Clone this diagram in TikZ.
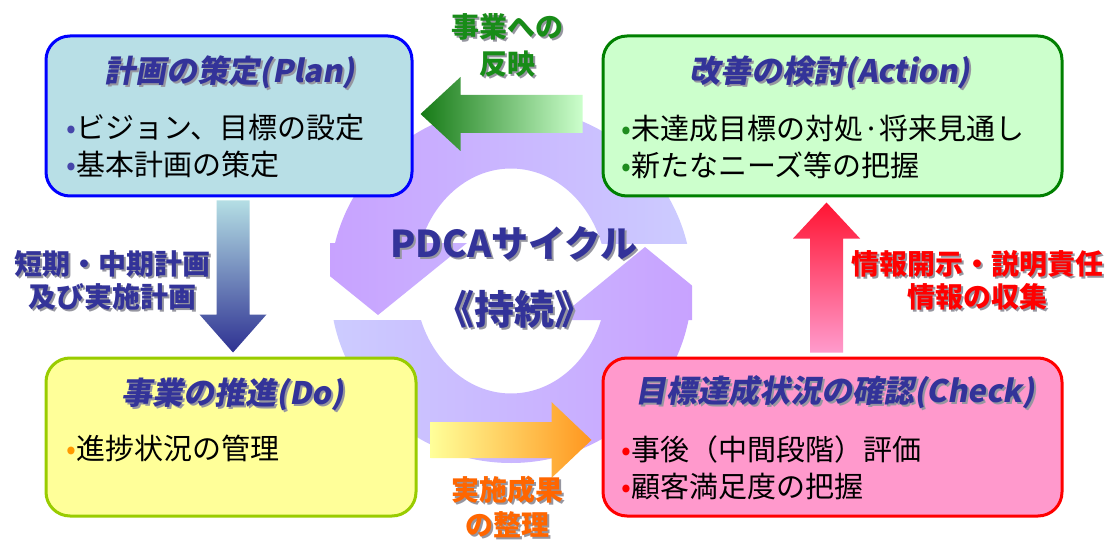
\documentclass[tikz,border=0pt]{standalone}
\usepackage{fontspec}
\setmainfont{Noto Sans CJK JP}
\newfontfamily\ttlfont[FakeSlant=0.18]{Noto Sans CJK JP}
\usetikzlibrary{calc}
\definecolor{navy}{RGB}{51,51,153}
\definecolor{ringdark}{RGB}{200,162,255}
\definecolor{ringlight}{RGB}{204,204,255}
\definecolor{planfill}{RGB}{184,223,230}
\definecolor{planline}{RGB}{0,0,255}
\definecolor{actfill}{RGB}{204,255,204}
\definecolor{actline}{RGB}{0,128,0}
\definecolor{dofill}{RGB}{255,255,153}
\definecolor{doline}{RGB}{153,204,0}
\definecolor{chkfill}{RGB}{255,153,204}
\definecolor{chkline}{RGB}{255,0,0}
\definecolor{gdark}{RGB}{22,122,22}
\definecolor{glight}{RGB}{204,255,204}
\definecolor{btop}{RGB}{180,222,228}
\definecolor{bbot}{RGB}{46,49,146}
\definecolor{oleft}{RGB}{255,255,153}
\definecolor{oright}{RGB}{255,150,30}
\definecolor{rtop}{RGB}{255,20,50}
\definecolor{rbot}{RGB}{255,155,205}
\definecolor{lblgreen}{RGB}{24,140,24}
\definecolor{lblorange}{RGB}{255,102,0}
\definecolor{lblred}{RGB}{255,0,0}
\definecolor{bulblue}{RGB}{70,70,170}
\definecolor{bulgreen}{RGB}{30,140,30}
\definecolor{bulorange}{RGB}{255,153,0}
\definecolor{shadowcol}{RGB}{150,150,160}
\newcommand\shd[1]{\leavevmode\rlap{\kern2pt\raisebox{-2pt}{\textcolor{shadowcol}{#1}}}#1}
\begin{document}
\begin{tikzpicture}[x=1pt,y=-1pt,
  box/.style={draw, line width=3pt, rounded corners=24pt, inner sep=0pt},
  ttlnode/.style={text=navy, font=\ttlfont\bfseries\fontsize{31}{36}\selectfont, inner sep=0pt},
  bodynode/.style={anchor=west, align=left, font=\fontsize{29}{37}\selectfont, inner sep=0pt},
  lbl/.style={align=center, font=\bfseries\fontsize{28}{35}\selectfont, inner sep=0pt}]
\useasboundingbox (0,0) rectangle (1108,540);
\fill[white] (0,0) rectangle (1108,540);

% ---- ring (background cycle)
\begin{scope}[even odd rule]
  \clip (280,0) rectangle (760,243);
  \clip (511,285) ellipse [x radius=181, y radius=178] (511,281) ellipse [x radius=96, y radius=112.5];
  \shade[left color=ringdark, right color=ringlight] (330,100) rectangle (692,470);
\end{scope}
\begin{scope}
  \clip (289,243) -- (467,243) -- (378,315) -- cycle;
  \shade[left color=ringdark, right color=ringlight] (330,100) rectangle (692,470);
\end{scope}
\begin{scope}[even odd rule]
  \clip (280,320) rectangle (760,540);
  \clip (511,285) ellipse [x radius=181, y radius=178] (511,281) ellipse [x radius=96, y radius=112.5];
  \shade[left color=ringlight, right color=ringdark] (330,100) rectangle (692,470);
\end{scope}
\begin{scope}
  \clip (556,320) -- (734,320) -- (645,247) -- cycle;
  \shade[left color=ringlight, right color=ringdark] (330,100) rectangle (692,470);
\end{scope}

% ---- boxes
\node[box, draw=planline, fill=planfill, minimum width=366pt, minimum height=160pt] (plan) at (229,116) {};
\node[box, draw=actline, fill=actfill, minimum width=459pt, minimum height=160pt] (action) at (832.5,116) {};
\node[box, draw=doline, fill=dofill, minimum width=370pt, minimum height=158pt] (do) at (231,437) {};
\node[box, draw=chkline, fill=chkfill, minimum width=459pt, minimum height=158pt] (check) at (832.5,437) {};

% ---- titles
\node[ttlnode] (plantitle) at (230,73) {\shd{計画の策定(Plan)}};
\node[ttlnode] (acttitle) at (830,73) {\shd{改善の検討(Action)}};
\node[ttlnode] (dotitle) at (233,395) {\shd{事業の推進(Do)}};
\node[ttlnode] (chktitle) at (835,393) {\shd{目標達成状況の確認(Check)}};

% ---- bullet texts
\node[bodynode] (planbody) at (66,146.5) {{\color{bulblue}•}ビジョン、目標の設定\\{\color{bulblue}•}基本計画の策定};
\node[bodynode] (actbody) at (621,147.5) {{\color{bulgreen}•}未達成目標の対処·将来見通し\\{\color{bulgreen}•}新たなニーズ等の把握};
\node[bodynode] (dobody) at (66,448) {{\color{bulorange}•}進捗状況の管理};
\node[bodynode] (chkbody) at (621,467.5) {{\color{lblred}•}事後（中間段階）評価\\{\color{lblred}•}顧客満足度の把握};

% ---- block arrows
\coordinate (gS) at ($(action.west)+(-19,-2)$);
\coordinate (gT) at ($(plan.east |- gS)+(7,0)$);
\shade[left color=gdark, right color=glight]
  ($(gS)+(0,-19)$) -- ($(gT)+(40,-19)$) -- ($(gT)+(40,-37)$) -- (gT) --
  ($(gT)+(40,37)$) -- ($(gT)+(40,19)$) -- ($(gS)+(0,19)$) -- cycle;

\coordinate (bS) at ($(plan.south)+(4,3)$);
\coordinate (bT) at ($(do.north -| bS)+(0,-4)$);
\shade[top color=btop, bottom color=bbot]
  ($(bS)+(-16.5,0)$) -- ($(bT)+(-16.5,-38)$) -- ($(bT)+(-33.5,-38)$) -- (bT) --
  ($(bT)+(33.5,-38)$) -- ($(bT)+(16.5,-38)$) -- ($(bS)+(16.5,0)$) -- cycle;

\coordinate (oS) at ($(do.east)+(13,3)$);
\coordinate (oT) at ($(check.west |- oS)+(-10,0)$);
\shade[left color=oleft, right color=oright]
  ($(oS)+(0,-18)$) -- ($(oT)+(-40,-18)$) -- ($(oT)+(-40,-38)$) -- (oT) --
  ($(oT)+(-40,38)$) -- ($(oT)+(-40,18)$) -- ($(oS)+(0,18)$) -- cycle;

\coordinate (rS) at ($(check.north)+(-6,-4)$);
\coordinate (rT) at ($(action.south -| rS)+(0,5)$);
\shade[top color=rtop, bottom color=rbot]
  ($(rS)+(-16.5,0)$) -- ($(rT)+(-16.5,36)$) -- ($(rT)+(-33.5,36)$) -- (rT) --
  ($(rT)+(33.5,36)$) -- ($(rT)+(16.5,36)$) -- ($(rS)+(16.5,0)$) -- cycle;

% ---- arrow labels
\node[lbl, text=lblgreen, font=\bfseries\fontsize{28}{37}\selectfont] (lblact) at (507,46.5) {\shd{事業への}\\\shd{反映}};
\node[lbl, text=navy, font=\bfseries\fontsize{28}{33}\selectfont] (lblplan) at (112,281.5) {\shd{短期・中期計画}\\\shd{及び実施計画}};
\node[lbl, text=lblorange, font=\bfseries\fontsize{28}{35}\selectfont] (lbldo) at (507,507.5) {\shd{実施成果}\\\shd{の整理}};
\node[lbl, text=lblred, font=\bfseries\fontsize{28}{33}\selectfont] (lblchk) at (977,281.5) {\shd{情報開示・説明責任}\\\shd{情報の収集}};

% ---- centre text
\node[align=center, text=navy, font=\bfseries\fontsize{37}{67}\selectfont, inner sep=0pt] (centre) at (514,278) {\shd{PDCAサイクル}\\{\fontsize{40}{67}\selectfont\shd{《持続》}}};
\end{tikzpicture}
\end{document}
